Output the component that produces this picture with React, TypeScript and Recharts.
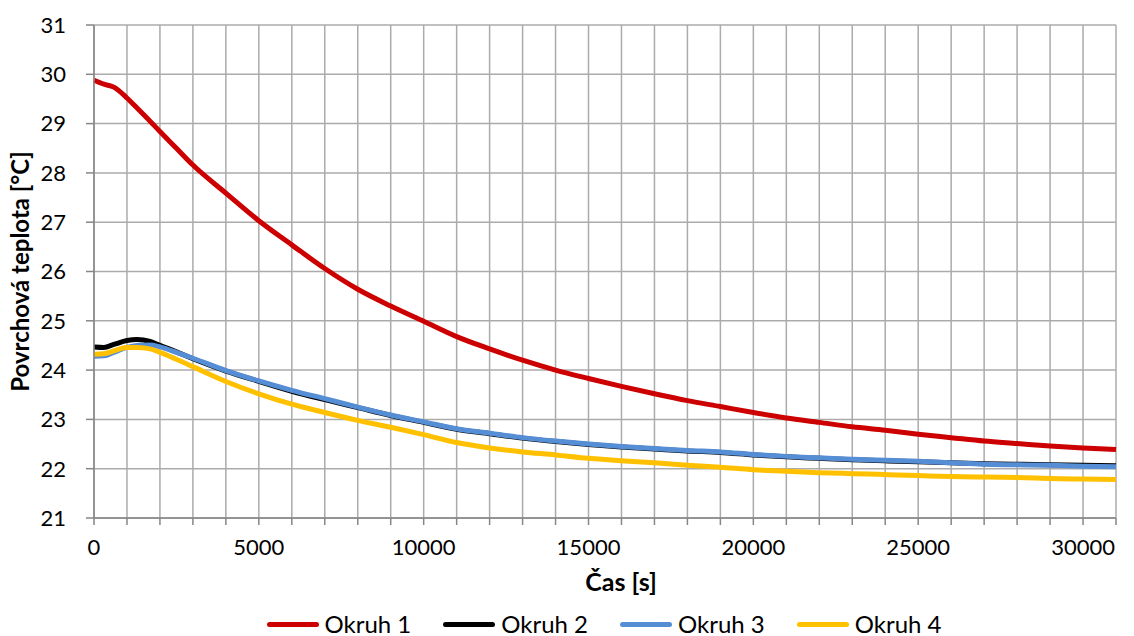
import {
    CartesianGrid,
    Legend,
    Line,
    LineChart,
    XAxis,
    YAxis,
} from 'recharts'

// čas měření [s]
const time = [
    0, 300, 600, 1000, 1300, 1700, 2000, 2500, 3000, 4000, 5000, 6000, 7000, 8000, 9000, 10000,
    11000, 12000, 13000, 14000, 15000, 16000, 17000, 18000, 19000, 20000, 21000, 22000, 23000,
    24000, 25000, 26000, 27000, 28000, 29000, 30000, 31000,
]

const okruh1 = [
    29.88, 29.8, 29.74, 29.52, 29.32, 29.05, 28.84, 28.5, 28.16, 27.59, 27.03, 26.54, 26.06, 25.64,
    25.3, 24.99, 24.68, 24.43, 24.2, 24.0, 23.83, 23.67, 23.52, 23.38, 23.26, 23.14, 23.03, 22.94,
    22.85, 22.78, 22.7, 22.63, 22.56, 22.51, 22.46, 22.42, 22.39,
]

const okruh2 = [
    24.47, 24.46, 24.52, 24.6, 24.62, 24.58, 24.5, 24.37, 24.23, 23.98, 23.77, 23.57, 23.4, 23.24,
    23.08, 22.94, 22.8, 22.71, 22.62, 22.55, 22.49, 22.44, 22.4, 22.36, 22.33, 22.28, 22.24, 22.21,
    22.18, 22.16, 22.14, 22.12, 22.1, 22.09, 22.08, 22.07, 22.06,
]

const okruh3 = [
    24.28, 24.29, 24.36, 24.46, 24.5, 24.51, 24.47, 24.36, 24.24, 23.99, 23.78, 23.59, 23.42, 23.25,
    23.09, 22.95, 22.81, 22.72, 22.63, 22.56, 22.5, 22.45, 22.41, 22.37, 22.34, 22.29, 22.25, 22.22,
    22.19, 22.17, 22.15, 22.12, 22.09, 22.08, 22.07, 22.05, 22.04,
]

const okruh4 = [
    24.32, 24.33, 24.39, 24.46, 24.46, 24.43, 24.36, 24.22, 24.07, 23.77, 23.52, 23.31, 23.14, 22.98,
    22.84, 22.69, 22.53, 22.42, 22.34, 22.28, 22.21, 22.16, 22.12, 22.07, 22.03, 21.98, 21.95, 21.92,
    21.9, 21.88, 21.86, 21.84, 21.83, 21.82, 21.8, 21.79, 21.78,
]

const xTicks = [
    0, 1000, 2000, 3000, 4000, 5000, 6000, 7000, 8000, 9000, 10000, 11000, 12000, 13000, 14000,
    15000, 16000, 17000, 18000, 19000, 20000, 21000, 22000, 23000, 24000, 25000, 26000, 27000,
    28000, 29000, 30000, 31000,
]
const xLabelTicks = [0, 5000, 10000, 15000, 20000, 25000, 30000]
const yTicks = [21, 22, 23, 24, 25, 26, 27, 28, 29, 30, 31]

const data = time.map((t, i) => ({
    t,
    o1: okruh1[i],
    o2: okruh2[i],
    o3: okruh3[i],
    o4: okruh4[i],
}))

const FONT = 'Lato, "Open Sans", sans-serif'
const AXIS = '#868686'

function LegendContent({ payload }: any) {
    return (
        <div
            style={{
                display: 'flex',
                justifyContent: 'center',
                gap: 32,
                height: 24,
                lineHeight: '24px',
                alignItems: 'center',
                paddingLeft: 92,
                fontFamily: FONT,
                fontSize: 24,
                color: '#000',
            }}
        >
            {(payload || []).map((p: any) => (
                <div key={p.value} style={{ display: 'flex', alignItems: 'center', whiteSpace: 'nowrap' }}>
                    <span
                        style={{
                            display: 'inline-block',
                            width: 52,
                            height: 5,
                            borderRadius: 3,
                            background: p.color,
                            marginRight: 6,
                        }}
                    />
                    <span>{p.value}</span>
                </div>
            ))}
        </div>
    )
}

export default function App() {
    return (
        <div style={{ position: 'absolute', left: 0, top: 0, background: '#fff' }}>
            <LineChart
                width={1134}
                height={636}
                data={data}
                margin={{ top: 25, right: 18, left: 0, bottom: 0 }}
            >
                <CartesianGrid stroke='#ababab' strokeWidth={1.5} />
                <XAxis
                    dataKey='t'
                    type='number'
                    domain={[0, 31000]}
                    ticks={xTicks}
                    interval={0}
                    height={94}
                    stroke={AXIS}
                    strokeWidth={1.5}
                    tickSize={7}
                    tickMargin={14}
                    tick={{ fill: '#000', fontSize: 22, fontFamily: FONT }}
                    tickFormatter={(v: number) => (xLabelTicks.includes(v) ? String(v) : '')}
                    label={{
                        value: 'Čas [s]',
                        position: 'insideBottom',
                        offset: 21,
                        dx: 16,
                        style: { fontFamily: FONT, fontSize: 25, fontWeight: 700, fill: '#000' },
                    }}
                />
                <YAxis
                    type='number'
                    domain={[21, 31]}
                    ticks={yTicks}
                    interval={0}
                    width={94}
                    stroke={AXIS}
                    strokeWidth={1.5}
                    tickSize={8}
                    tickMargin={4}
                    tick={{ fill: '#000', fontSize: 22, fontFamily: FONT, dx: -16 }}
                    label={{
                        value: 'Povrchová teplota [°C]',
                        angle: -90,
                        position: 'insideLeft',
                        offset: 20,
                        style: {
                            textAnchor: 'middle',
                            fontFamily: FONT,
                            fontSize: 24,
                            fontWeight: 700,
                            fill: '#000',
                        },
                    }}
                />
                <Legend verticalAlign='bottom' content={<LegendContent />} />
                <Line
                    type='monotone'
                    dataKey='o1'
                    name='Okruh 1'
                    stroke='#cc0000'
                    strokeWidth={5}
                    dot={false}
                    isAnimationActive={false}
                />
                <Line
                    type='monotone'
                    dataKey='o2'
                    name='Okruh 2'
                    stroke='#000000'
                    strokeWidth={5}
                    dot={false}
                    isAnimationActive={false}
                />
                <Line
                    type='monotone'
                    dataKey='o3'
                    name='Okruh 3'
                    stroke='#558ed5'
                    strokeWidth={5}
                    dot={false}
                    isAnimationActive={false}
                />
                <Line
                    type='monotone'
                    dataKey='o4'
                    name='Okruh 4'
                    stroke='#ffc000'
                    strokeWidth={5}
                    dot={false}
                    isAnimationActive={false}
                />
            </LineChart>
        </div>
    )
}
